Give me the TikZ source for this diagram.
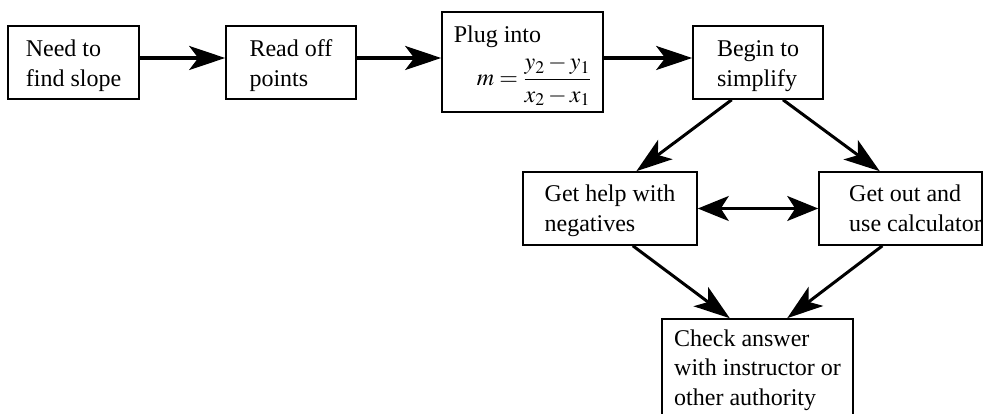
\documentclass[tikz,border=0pt]{standalone}
\usepackage{mathptmx}
\usepackage[no-math]{fontspec}
\setmainfont{Liberation Serif}
\usetikzlibrary{arrows.meta,calc}
\newcommand{\boxtext}[2][0pt]{\raisebox{#1}[\height][\depth]{\begin{tabular}{@{}l@{}}#2\end{tabular}}}
\begin{document}
\begin{tikzpicture}[x=1pt,y=-1pt,
  box/.style={draw, line width=1.6pt, inner sep=0pt, font=\fontsize{24}{29.5}\selectfont},
  arr/.style={line width=3.5pt, -{Stealth[length=36pt,width=24pt,inset=9pt]}},
  darr/.style={line width=3pt, -{Stealth[length=36pt,width=24pt,inset=9pt]}},
  dbl/.style={line width=2.6pt, {Stealth[length=31pt,width=25pt,inset=8pt]}-{Stealth[length=31pt,width=25pt,inset=8pt]}}]
\useasboundingbox (0,0) rectangle (983,414);
\clip (0,0) rectangle (983,414);
\node[box, minimum width=131pt, minimum height=73pt] (b1) at (73.5,62.5) {\boxtext[-3.35pt]{Need to\\find slope}};
\node[box, minimum width=130pt, minimum height=73pt] (b2) at (291,62.5) {\boxtext[-3.35pt]{Read off\\points}};
\node[box, minimum width=161pt, minimum height=100pt] (b3) at (522.5,62) {\boxtext[-2pt]{Plug into\\[4pt]\hspace*{23pt}$\displaystyle m=\frac{y_2-y_1}{x_2-x_1}$}};
\node[box, minimum width=130pt, minimum height=73pt] (b4) at (758,62.5) {\boxtext[-3.35pt]{Begin to\\simplify}};
\node[box, minimum width=174pt, minimum height=73pt] (b5) at (610,208.5) {\boxtext[-2pt]{Get help with\\negatives}};
\node[box, minimum width=163pt, minimum height=73pt] (b6) at (900.5,208.5) {\hspace*{15pt}\boxtext[-2pt]{Get out and\\use calculator}\hspace*{-15pt}};
\node[box, minimum width=191pt, minimum height=102pt] (b7) at (757.5,370) {\boxtext{Check answer\\with instructor or\\other authority}};
\draw[arr] ([yshift=4.5pt]b1.east) -- ([yshift=4.5pt]b2.west);
\draw[arr] ([yshift=4.5pt]b2.east) -- ([yshift=4pt]b3.west);
\draw[arr] ([yshift=4pt]b3.east) -- ([yshift=4.5pt]b4.west);
\draw[darr] ($(b4.south west)!0.3!(b4.south east)$) -- ($(b5.north west)!0.65!(b5.north east)$);
\draw[darr] ($(b4.south west)!0.69!(b4.south east)$) -- ($(b6.north west)!0.374!(b6.north east)$);
\draw[dbl] (b5.east) -- (b6.west);
\draw[darr] ($(b5.south west)!0.63!(b5.south east)$) -- ($(b7.north west)!0.356!(b7.north east)$);
\draw[darr] ($(b6.south west)!0.39!(b6.south east)$) -- ($(b7.north west)!0.654!(b7.north east)$);
\end{tikzpicture}
\end{document}
